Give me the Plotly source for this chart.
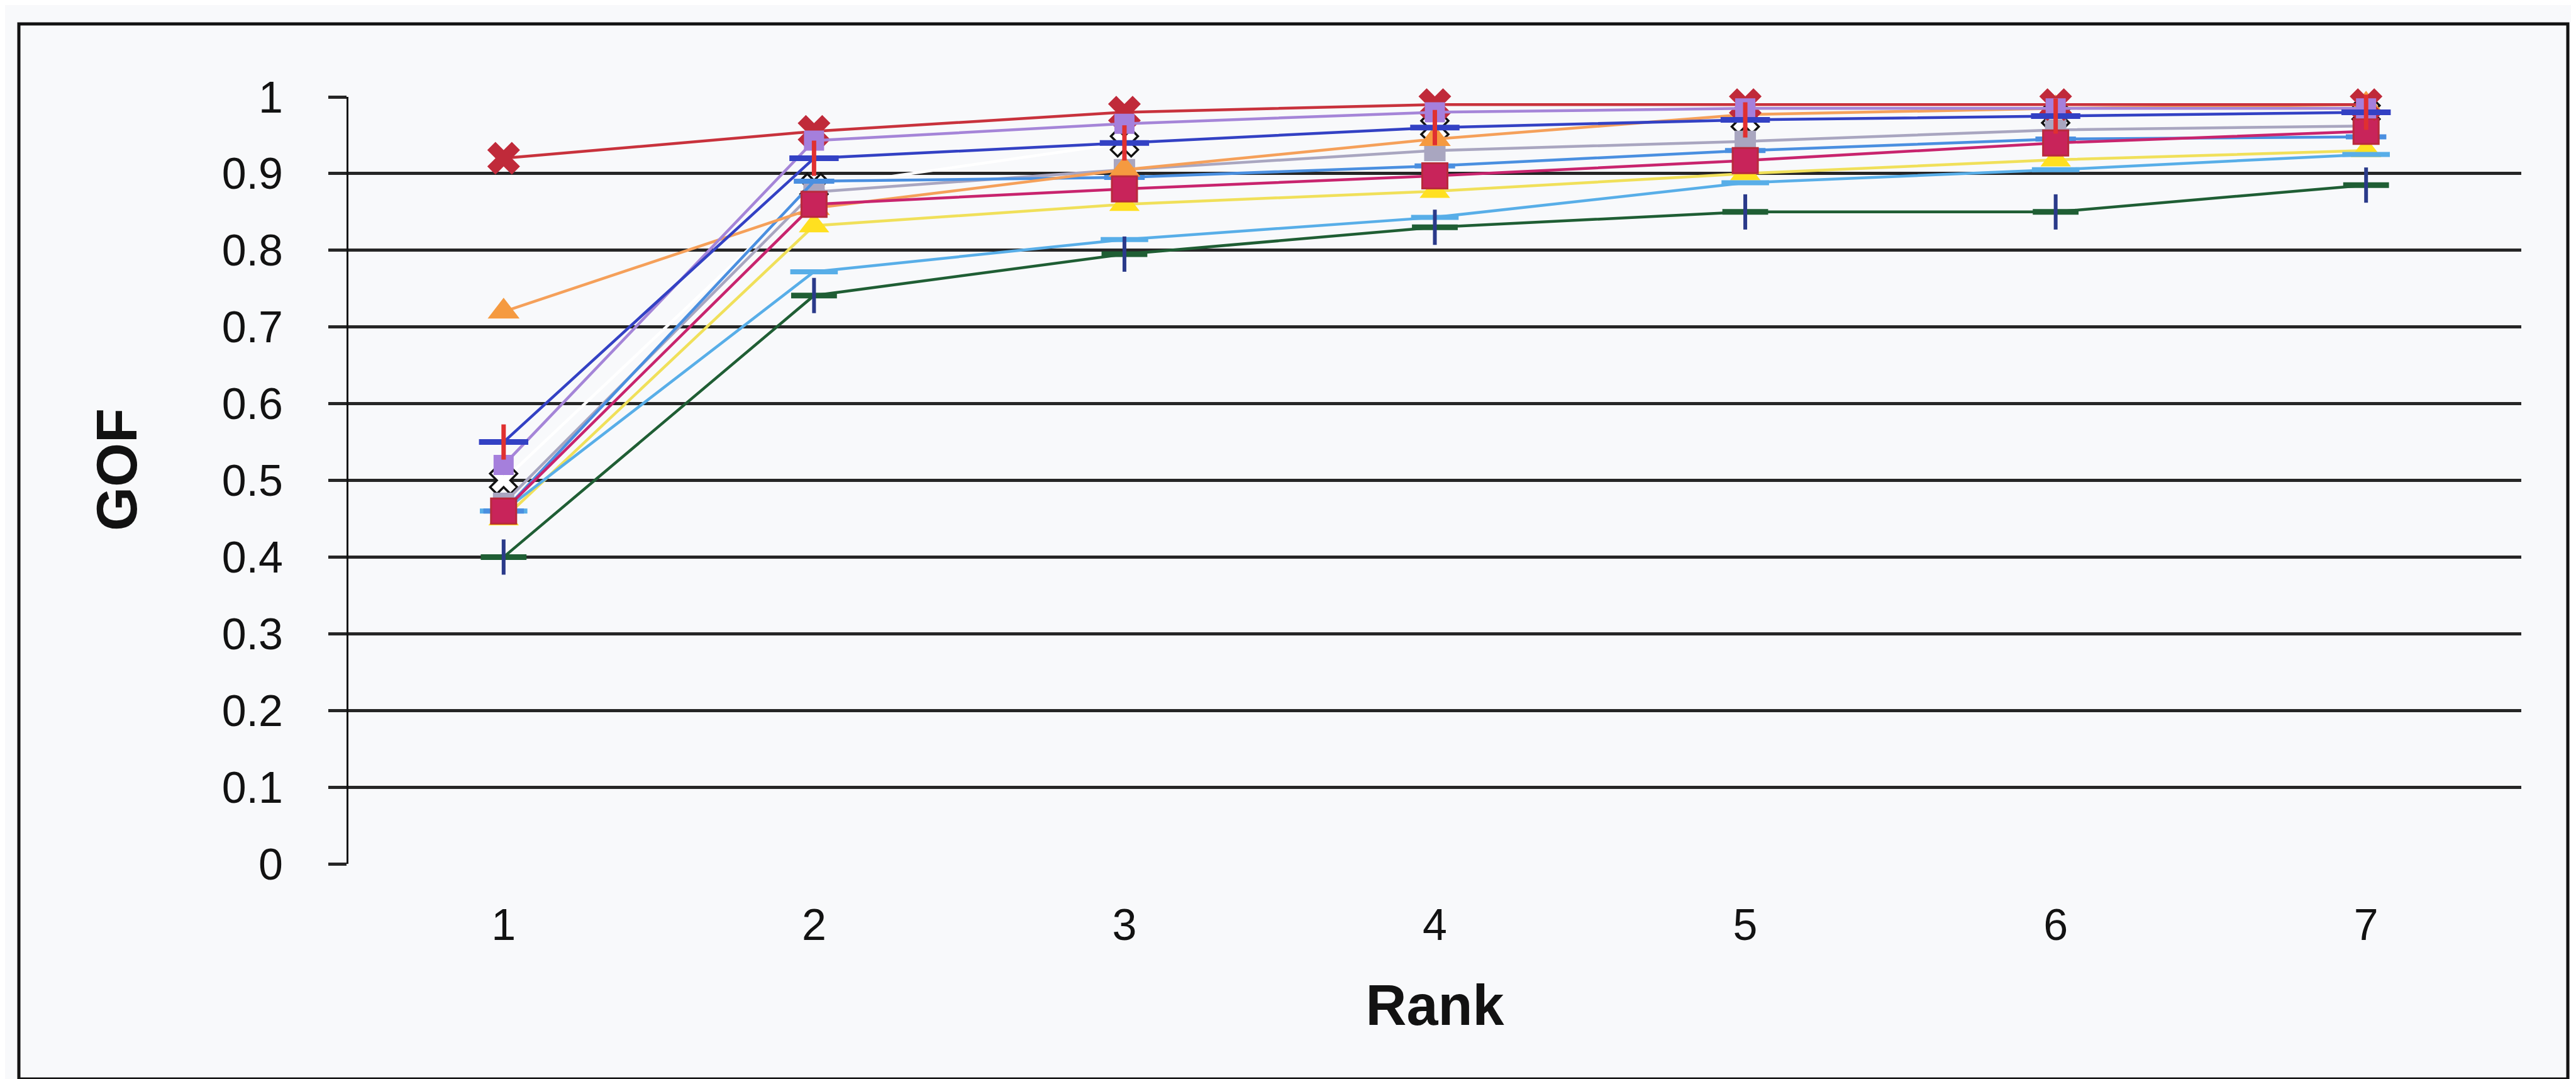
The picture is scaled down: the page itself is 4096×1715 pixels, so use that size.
import plotly.graph_objects as go

# ---------------- data ----------------
ranks = [1, 2, 3, 4, 5, 6, 7]
rank_labels = ["1", "2", "3", "4", "5", "6", "7"]
y_ticks = [0, 0.1, 0.2, 0.3, 0.4, 0.5, 0.6, 0.7, 0.8, 0.9, 1.0]
y_tick_labels = ["0", "0.1", "0.2", "0.3", "0.4", "0.5", "0.6", "0.7", "0.8", "0.9", "1"]

gof_white = [0.50, 0.882, 0.94, 0.96, 0.97, 0.975, 0.98]
gof_yellow = [0.45, 0.832, 0.86, 0.877, 0.90, 0.918, 0.93]
gof_skyblue = [0.46, 0.772, 0.814, 0.843, 0.888, 0.905, 0.925]
gof_green = [0.40, 0.741, 0.795, 0.83, 0.85, 0.85, 0.885]
gof_gray = [0.47, 0.876, 0.905, 0.93, 0.942, 0.957, 0.962]
gof_lightblue = [0.46, 0.89, 0.895, 0.91, 0.93, 0.945, 0.948]
gof_orange = [0.72, 0.855, 0.905, 0.945, 0.977, 0.985, 0.99]
gof_magenta = [0.46, 0.86, 0.88, 0.897, 0.917, 0.94, 0.955]
gof_red = [0.92, 0.955, 0.98, 0.99, 0.99, 0.99, 0.99]
gof_lavender = [0.52, 0.943, 0.965, 0.98, 0.985, 0.985, 0.985]
gof_blue = [0.55, 0.92, 0.94, 0.96, 0.97, 0.975, 0.98]

# ---------------- layout geometry (pixels in the 4096x1715 window) ----------------
W, H = 4096, 1715
L, R, T, B = 546, 95, 146, 350
PW, PH = W - L - R, H - T - B
BG = "#f8f9fb"
INK = "#121212"
GRID = "#262626"
FONT = "Liberation Sans, Arial, sans-serif"
LW = 4.5
TICK_SIZE = 70
TITLE_SIZE = 90

fig = go.Figure()


def add_series(y, color, symbol, size, fill, edge=None, edge_w=0, name="", lw=LW, mode="lines+markers"):
    fig.add_trace(go.Scatter(
        x=ranks, y=y, mode=mode, name=name,
        line=dict(color=color, width=lw),
        marker=dict(symbol=symbol, size=size, color=fill,
                    line=dict(color=edge if edge else fill, width=edge_w)),
        cliponaxis=False, showlegend=False, hoverinfo="x+y+name",
    ))


# drawing order (later = on top)
add_series(gof_white, "#ffffff", "x", 38, "#ffffff", edge="#111111", edge_w=3.5, name="Series 11")
add_series(gof_yellow, "#f0e05a", "triangle-up", 42, "#ffe020", name="Series 8")
add_series(gof_skyblue, "#58aee8", "line-ew", 54, "#58aee8", edge="#58aee8", edge_w=8, name="Series 9")
add_series(gof_green, "#1f5e34", "line-ew", 52, "#1f5e34", edge="#1f5e34", edge_w=9, name="Series 10")
add_series(gof_green, "#1f5e34", "line-ns", 40, "#2a3a8a", edge="#2a3a8a", edge_w=6, name="Series 10", mode="markers")
add_series(gof_gray, "#a9a6c0", "square", 34, "#a9a6c0", name="Series 5")
add_series(gof_lightblue, "#4a8fe0", "line-ew", 46, "#4a8fe0", edge="#4a8fe0", edge_w=8, name="Series 6")
add_series(gof_orange, "#f5a05a", "triangle-up", 44, "#f59a40", name="Series 4")
add_series(gof_magenta, "#c8246e", "square", 40, "#c8245a", edge="#b82a3c", edge_w=3, name="Series 7")
add_series(gof_red, "#c8323c", "x", 46, "#c02a3a", name="Series 1")
add_series(gof_lavender, "#a585d8", "square", 32, "#a57fdc", name="Series 2")
add_series(gof_blue, "#3341c4", "line-ew", 56, "#3341c4", edge="#3341c4", edge_w=9, name="Series 3")
add_series(gof_blue, "#3341c4", "line-ns", 40, "#e03030", edge="#e03030", edge_w=7, name="Series 3", mode="markers")


# pixel positions converted to paper fractions
def px_x(px):
    return (px - L) / PW


def px_y(py):
    return (H - B - py) / PH


# outer chart frame
fig.add_shape(type="rect", xref="paper", yref="paper",
              x0=px_x(22), x1=px_x(4075), y0=px_y(1707), y1=px_y(30),
              line=dict(color=INK, width=5), fillcolor="rgba(0,0,0,0)", layer="below")

# y-axis title (placed as in the reference, a little above the plot centre)
fig.add_annotation(text="GOF", xref="paper", yref="paper",
                   x=px_x(178), y=px_y(739), xanchor="center", yanchor="middle",
                   textangle=-90, showarrow=False,
                   font=dict(family=FONT, size=TITLE_SIZE, color=INK, weight="bold"))

fig.update_layout(
    width=W, height=H,
    margin=dict(l=L, r=R, t=T, b=B, pad=0),
    paper_bgcolor=BG, plot_bgcolor=BG,
    font=dict(family=FONT, color=INK, size=TICK_SIZE),
    showlegend=False,
    xaxis=dict(
        range=[0.5, 7.5], tickmode="array", tickvals=ranks, ticktext=rank_labels,
        showgrid=False, zeroline=False,
        showline=True, linecolor=BG, linewidth=8,
        ticks="", tickfont=dict(family=FONT, size=TICK_SIZE, color=INK),
        ticklabelstandoff=29, automargin=False,
        title=dict(text="Rank", font=dict(family=FONT, size=TITLE_SIZE, color=INK, weight="bold"), standoff=61),
    ),
    yaxis=dict(
        range=[0, 1], tickmode="array", tickvals=y_ticks, ticktext=y_tick_labels,
        showgrid=True, gridcolor=GRID, gridwidth=LW, zeroline=False,
        showline=True, linecolor=INK, linewidth=3,
        ticks="outside", ticklen=29, tickwidth=LW, tickcolor=GRID,
        tickfont=dict(family=FONT, size=TICK_SIZE, color=INK),
        ticklabelstandoff=58, automargin=False,
    ),
)

fig.write_html("out.html")
